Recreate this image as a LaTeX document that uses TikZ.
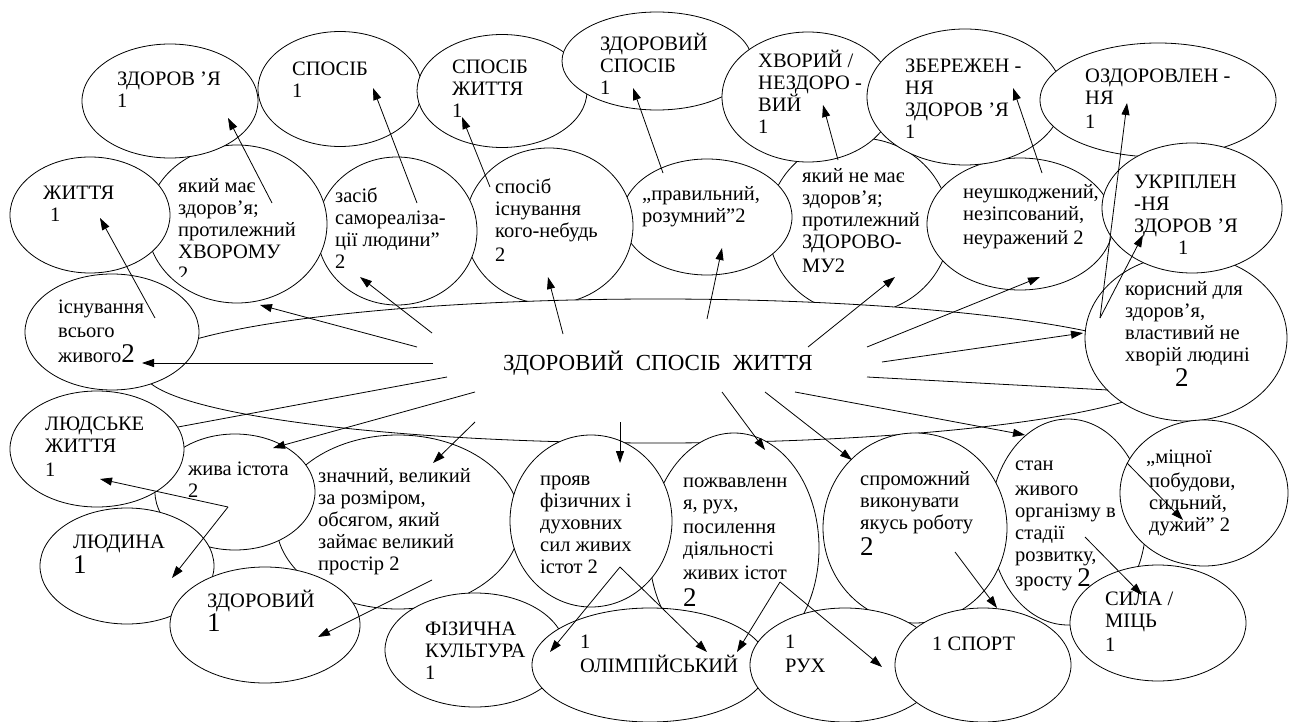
\documentclass[tikz,border=0pt]{standalone}
\usepackage{fontspec}
\setmainfont{Liberation Serif}
\usetikzlibrary{shapes.geometric,arrows.meta}
\newcommand\rs{\rule{0pt}{20pt}}
\newcommand\bigd[1]{{\fontsize{27}{22}\selectfont #1}}
\begin{document}
\begin{tikzpicture}[x=1pt,y=-1pt,
  ell/.style={ellipse, draw, fill=white, line width=0.8pt, inner sep=0pt, outer sep=0pt},
  txt/.style={anchor=north west, inner sep=0pt, align=left, font=\fontsize{20.5}{22}\selectfont},
  arr/.style={line width=0.8pt, -{Triangle[length=12pt,width=8pt]}},
  ln/.style={line width=0.8pt}]
\useasboundingbox[fill=white] (0,0) rectangle (1296,722);

% ---- second row (lowest layer) ----
\node[ell, minimum width=182pt, minimum height=176pt] (eYakyiNe) at (859,226) {};
\node[txt] (tYakyiNe) at (802,162) {\rs який не має\\здоров’я;\\протилежний\\ЗДОРОВО-\\[2pt]МУ2};
\node[ell, minimum width=170pt, minimum height=116pt] (ePravyl) at (707,217) {};
\node[txt] (tPravyl) at (642,180) {\rs „правильний,\\розумний”2};
\node[ell, minimum width=168pt, minimum height=156pt] (eSposibIsn) at (549,226) {};
\node[txt] (tSposibIsn) at (495,173) {\rs спосіб\\існування\\кого-небудь\\[2pt]2};
\node[ell, minimum width=160pt, minimum height=148pt] (eZasib) at (397,231) {};
\node[txt] (tZasib) at (335,182) {\rs засіб\\самореаліза-\\ції людини”\\2};
\node[ell, minimum width=180pt, minimum height=158pt] (eYakyi) at (237,224) {};
\begin{scope}
\clip (150,140) rectangle (330,276);
\node[txt] (tYakyi) at (178,172) {\rs який має\\здоров’я;\\протилежний\\ХВОРОМУ\\2};
\end{scope}
\node[ell, minimum width=160pt, minimum height=116pt] (eZhyttya) at (90,215) {};
\node[txt] (tZhyttya) at (43,179) {\rs ЖИТТЯ\\\hspace*{7pt}1};
\node[ell, minimum width=186pt, minimum height=132pt] (eNeushk) at (1020,224) {};
\node[txt] (tNeushk) at (963,178) {\rs неушкоджений,\\незіпсований,\\[2pt]неуражений 2};

% ---- big central ellipse ----
\node[ell, minimum width=1030pt, minimum height=144pt] (eBig) at (658,371) {};
\node[anchor=north west, inner sep=0pt, font=\fontsize{23}{24}\selectfont] (tBig) at (503,350)
  {\rs ЗДОРОВИЙ\hspace{12pt}СПОСІБ\hspace{12pt}ЖИТТЯ};

% ---- top row ----
\node[ell, minimum width=176pt, minimum height=114pt] (eZdorovya) at (170,101) {};
\node[txt] (tZdorovya) at (117,65) {\rs ЗДОРОВ ’Я\\1};
\node[ell, minimum width=164pt, minimum height=115pt] (eSposib) at (340,89) {};
\node[txt] (tSposib) at (292,55) {\rs СПОСІБ\\1};
\node[ell, minimum width=170pt, minimum height=113pt] (eSposibZh) at (502,91) {};
\node[txt] (tSposibZh) at (452,53) {\rs СПОСІБ\\ЖИТТЯ\\1};
\node[ell, minimum width=190pt, minimum height=98pt] (eZdSposib) at (657,61) {};
\node[txt] (tZdSposib) at (600,30) {\rs ЗДОРОВИЙ\\СПОСІБ\\1};
\node[ell, minimum width=172pt, minimum height=130pt] (eHvoryi) at (808,97) {};
\node[txt] (tHvoryi) at (758,47) {\rs ХВОРИЙ /\\НЕЗДОРО -\\ВИЙ\\1};
\node[ell, minimum width=196pt, minimum height=136pt] (eZberezh) at (965,97) {};
\node[txt] (tZberezh) at (905,52) {\rs ЗБЕРЕЖЕН -\\НЯ\\ЗДОРОВ ’Я\\1};
\node[ell, minimum width=236pt, minimum height=114pt] (eOzdor) at (1158,100) {};
\node[txt] (tOzdor) at (1085,62) {\rs ОЗДОРОВЛЕН -\\НЯ\\[2pt]1};

% ---- side ellipses over the big one ----
\node[ell, minimum width=174pt, minimum height=116pt] (eIsnuv) at (112,332) {};
\node[txt] (tIsnuv) at (58,293) {\rs існування\\[2pt]всього\\[3pt]живого\bigd{2}};
\node[ell, minimum width=202pt, minimum height=166pt] (eKorysnyi) at (1186,338) {};
\node[txt] (tKorysnyi) at (1125,275) {\rs корисний для\\здоров’я,\\властивий не\\хворій людині\\[2pt]\hspace*{50pt}\bigd{2}};
\node[ell, minimum width=180pt, minimum height=130pt] (eUkripl) at (1192,208) {};
\node[txt] (tUkripl) at (1134,168) {\rs УКРІПЛЕН\\-НЯ\\ЗДОРОВ ’Я\\\hspace*{44pt}1};

% ---- lower ellipses ----
\node[ell, minimum width=244pt, minimum height=174pt] (eZnachnyi) at (398,522) {};
\node[txt] (tZnachnyi) at (318,462) {\rs значний, великий\\за розміром,\\обсягом, який\\займає великий\\простір 2};
\node[ell, minimum width=160pt, minimum height=116pt] (eZhyva) at (235,492) {};
\node[txt] (tZhyva) at (188,455) {\rs жива істота\\2};
\node[ell, minimum width=174pt, minimum height=116pt] (eLudske) at (97,449) {};
\node[txt] (tLudske) at (45,410) {\rs ЛЮДСЬКЕ\\ЖИТТЯ\\[2pt]1};
\node[ell, minimum width=174pt, minimum height=116pt] (eLudyna) at (127,566) {};
\node[txt] (tLudyna) at (73,528) {\rs ЛЮДИНА\\[2pt]\bigd{1}};
\node[ell, minimum width=190pt, minimum height=116pt] (eZdorovyi) at (265,625) {};
\node[txt] (tZdorovyi) at (207,587) {\rs ЗДОРОВИЙ\\[1pt]\bigd{1}};

\node[ell, minimum width=170pt, minimum height=230pt] (ePozhv) at (734,548) {};
\node[txt] (tPozhv) at (683,467) {\rs пожвавленн\\я, рух,\\[2pt]посилення\\діяльності\\[2pt]живих істот\\[5pt]\bigd{2}};
\node[ell, minimum width=162pt, minimum height=172pt] (eProyav) at (591,521) {};
\node[txt] (tProyav) at (540,465) {\rs прояв\\фізичних і\\духовних\\сил живих\\істот 2};

\node[ell, minimum width=156pt, minimum height=206pt] (eStan) at (1068,522) {};
\node[txt] (tStan) at (1015,450) {\rs стан\\[3pt]живого\\організму в\\стадії\\розвитку,\\[2pt]зросту \bigd{2}};
\node[ell, minimum width=184pt, minimum height=190pt] (eSprom) at (915,528) {};
\node[txt] (tSprom) at (860,465) {\rs спроможний\\виконувати\\якусь роботу\\[3pt]\bigd{2}};
\node[ell, minimum width=168pt, minimum height=146pt] (eMitsnoi) at (1204,493) {};
\node[txt] (tMitsnoi) at (1146,443) {\rs „міцної\\[2pt]\hspace*{3pt}побудови,\\\hspace*{3pt}сильний,\\\hspace*{3pt}дужий” 2};
\node[ell, minimum width=176pt, minimum height=116pt] (eSyla) at (1158,623) {};
\node[txt] (tSyla) at (1105,585) {\rs СИЛА /\\МІЦЬ\\[2pt]1};

\node[ell, minimum width=180pt, minimum height=114pt] (eFiz) at (475,650) {};
\node[txt] (tFiz) at (425,615) {\rs ФІЗИЧНА\\КУЛЬТУРА\\1};
\node[ell, minimum width=236pt, minimum height=114pt] (eOlimp) at (650,665) {};
\node[txt] (tOlimp) at (580,628) {\rs 1\\[2pt]ОЛІМПІЙСЬКИЙ};
\node[ell, minimum width=190pt, minimum height=114pt] (eRukh) at (845,665) {};
\node[txt] (tRukh) at (785,628) {\rs 1\\[2pt]РУХ};
\node[ell, minimum width=176pt, minimum height=114pt] (eSport) at (983,665) {};
\node[txt] (tSport) at (932,630) {\rs 1 СПОРТ};

% ---- connector end points ----
\coordinate (a1s) at (432,333); \coordinate (a1e) at (360,277);
\coordinate (a2s) at (417,347); \coordinate (a2e) at (260,305);
\coordinate (a3s) at (433,363); \coordinate (a3e) at (142,363);
\coordinate (a4s) at (447,377); \coordinate (a4e) at (178,427);
\coordinate (a5s) at (475,392); \coordinate (a5e) at (273,448);
\coordinate (a6s) at (475,422); \coordinate (a6e) at (433,463);
\coordinate (a7s) at (620,422); \coordinate (a7e) at (620,463);
\coordinate (a8s) at (722,392); \coordinate (a8e) at (765,450);
\coordinate (a9s) at (765,392); \coordinate (a9e) at (852,460);
\coordinate (a10s) at (795,392); \coordinate (a10e) at (1025,435);
\coordinate (a11s) at (867,377); \coordinate (a11e) at (1108,390);
\coordinate (a12s) at (882,362); \coordinate (a12e) at (1083,333);
\coordinate (a13s) at (867,347); \coordinate (a13e) at (1040,277);
\coordinate (a14s) at (808,347); \coordinate (a14e) at (895,277);
\coordinate (a15s) at (1100,318); \coordinate (a15e) at (1127,103); \coordinate (a16e) at (1143,235);
\coordinate (a17s) at (272,203); \coordinate (a17e) at (228,118);
\coordinate (a18s) at (417,203); \coordinate (a18e) at (373,88);
\coordinate (a19s) at (490,187); \coordinate (a19e) at (462,117);
\coordinate (a20s) at (663,173); \coordinate (a20e) at (633,88);
\coordinate (a21s) at (838,160); \coordinate (a21e) at (823,105);
\coordinate (a22s) at (1042,173); \coordinate (a22e) at (1013,88);
\coordinate (a23s) at (155,318); \coordinate (a23e) at (100,218);
\coordinate (a24s) at (563,334); \coordinate (a24e) at (548,277);
\coordinate (a25s) at (707,319); \coordinate (a25e) at (722,248);
\coordinate (a26s) at (228,507); \coordinate (a26e) at (100,479); \coordinate (a27e) at (172,578);
\coordinate (a28s) at (432,580); \coordinate (a28e) at (318,637);
\coordinate (a29s) at (620,567); \coordinate (a29e) at (550,652); \coordinate (a30e) at (707,652);
\coordinate (a31s) at (780,582); \coordinate (a31e) at (737,652); \coordinate (a32e) at (882,667);
\coordinate (a33s) at (955,552); \coordinate (a33e) at (997,608);
\coordinate (a34s) at (1085,537); \coordinate (a34e) at (1142,595);
\coordinate (a35s) at (1127,463); \coordinate (a35e) at (1183,520);

% ---- connectors ----
\draw[arr] (a1s) -- (a1e);
\draw[arr] (a2s) -- (a2e);
\draw[arr] (a3s) -- (a3e);
\draw[ln] (a4s) -- (a4e);
\draw[arr] (a5s) -- (a5e);
\draw[arr] (a6s) -- (a6e);
\draw[arr] (a7s) -- (a7e);
\draw[arr] (a8s) -- (a8e);
\draw[arr] (a9s) -- (a9e);
\draw[arr] (a10s) -- (a10e);
\draw[ln] (a11s) -- (a11e);
\draw[arr] (a12s) -- (a12e);
\draw[arr] (a13s) -- (a13e);
\draw[arr] (a14s) -- (a14e);
\draw[arr] (a15s) -- (a15e);
\draw[arr] (a15s) -- (a16e);
\draw[arr] (a17s) -- (a17e);
\draw[arr] (a18s) -- (a18e);
\draw[arr] (a19s) -- (a19e);
\draw[arr] (a20s) -- (a20e);
\draw[arr] (a21s) -- (a21e);
\draw[arr] (a22s) -- (a22e);
\draw[arr] (a23s) -- (a23e);
\draw[arr] (a24s) -- (a24e);
\draw[arr] (a25s) -- (a25e);
\draw[arr] (a26s) -- (a26e);
\draw[arr] (a26s) -- (a27e);
\draw[arr] (a28s) -- (a28e);
\draw[arr] (a29s) -- (a29e);
\draw[arr] (a29s) -- (a30e);
\draw[arr] (a31s) -- (a31e);
\draw[arr] (a31s) -- (a32e);
\draw[arr] (a33s) -- (a33e);
\draw[arr] (a34s) -- (a34e);
\draw[arr] (a35s) -- (a35e);
\end{tikzpicture}
\end{document}
